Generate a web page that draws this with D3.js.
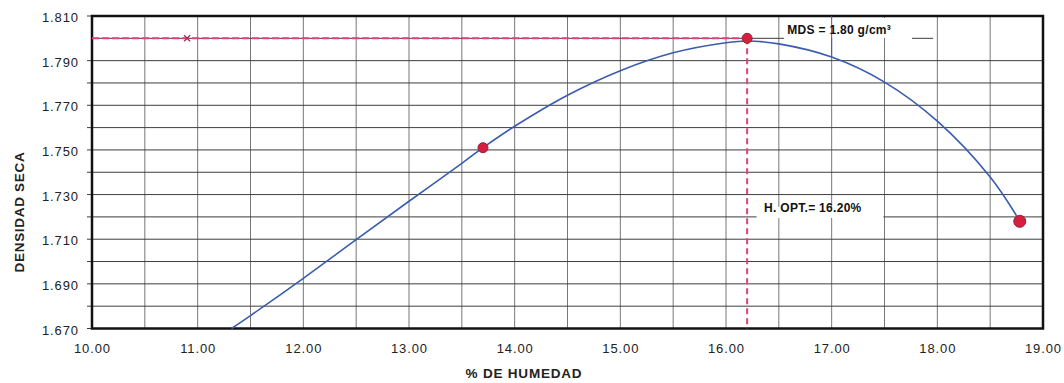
<!DOCTYPE html>
<html>
<head>
<meta charset="utf-8">
<script src="https://cdn.jsdelivr.net/npm/d3@7"></script>
<style>
  html, body { margin: 0; padding: 0; background: #fff; }
  svg { display: block; font-family: "Liberation Sans", Arial, sans-serif; }
</style>
</head>
<body>
<svg id="chart" width="1064" height="383"></svg>
<script>
// Compaction curve: moisture content (%) vs dry density (g/cm3)
const curveHumedad  = [11.32, 11.5, 12.0, 12.5, 13.0, 13.5, 13.7, 14.0, 14.5, 15.0, 15.5, 16.0, 16.2, 16.5, 17.0, 17.5, 18.0, 18.5, 18.75];
const curveDensidad = [1.670, 1.6758, 1.6925, 1.7098, 1.7270, 1.7440, 1.751, 1.7606, 1.7745, 1.7855, 1.7935, 1.7980, 1.7988, 1.7975, 1.7916, 1.7804, 1.7629, 1.7379, 1.7205];

// Measured test points
const puntosHumedad  = [13.70, 16.20, 18.78];
const puntosDensidad = [1.751, 1.800, 1.718];
const puntosRadio    = [5, 5, 6];

// Results
const mds  = 1.80;   // maximum dry density
const hOpt = 16.20;  // optimum moisture

const xTicks = [10, 11, 12, 13, 14, 15, 16, 17, 18, 19];
const yTicks = [1.670, 1.690, 1.710, 1.730, 1.750, 1.770, 1.790, 1.810];

const svg = d3.select("#chart");
const x = d3.scaleLinear().domain([10, 19]).range([92, 1043]);
const y = d3.scaleLinear().domain([1.67, 1.81]).range([328.5, 16]);

// grid
const vGrid = d3.range(10, 19.001, 0.5);
const hGrid = d3.range(0, 15).map(i => +(1.67 + i * 0.01).toFixed(3)).filter(v => v !== 1.8);

svg.append("g").selectAll("line").data(vGrid).join("line")
  .attr("x1", d => x(d)).attr("x2", d => x(d))
  .attr("y1", y(1.81)).attr("y2", y(1.67))
  .attr("stroke", "#777").attr("stroke-width", 1);

svg.append("g").selectAll("line").data(hGrid).join("line")
  .attr("x1", x(10) - 5).attr("x2", x(19))
  .attr("y1", d => y(d)).attr("y2", d => y(d))
  .attr("stroke", "#3e3e3e").attr("stroke-width", 1);

// 1.800 grid line pieces
const seg800 = [[10, 16.55], [17.76, 17.96]];
svg.append("g").selectAll("line").data(seg800).join("line")
  .attr("x1", d => x(d[0])).attr("x2", d => x(d[1]))
  .attr("y1", y(1.8)).attr("y2", y(1.8))
  .attr("stroke", "#3e3e3e").attr("stroke-width", 1);

// label backgrounds
svg.append("rect").attr("x", x(16.55)).attr("y", y(1.81) + 2).attr("width", x(17.74) - x(16.55)).attr("height", y(1.8) - y(1.81) - 2.5).attr("fill", "#fff");
svg.append("rect").attr("x", x(16.29)).attr("y", y(1.7245)).attr("width", x(17.49) - x(16.29)).attr("height", y(1.7195) - y(1.7245)).attr("fill", "#fff");

// frame
svg.append("rect")
  .attr("x", x(10)).attr("y", y(1.81))
  .attr("width", x(19) - x(10)).attr("height", y(1.67) - y(1.81))
  .attr("fill", "none").attr("stroke", "#111").attr("stroke-width", 2.5);

// drop line at 17.00
svg.append("line")
  .attr("x1", x(17)).attr("x2", x(17))
  .attr("y1", y(1.81)).attr("y2", y(1.7916))
  .attr("stroke", "#3a5cae").attr("stroke-width", 1);

// reference dashed lines
const pink = "#e2407e";
svg.append("line")
  .attr("x1", x(10)).attr("x2", x(hOpt))
  .attr("y1", y(mds)).attr("y2", y(mds))
  .attr("stroke", pink).attr("stroke-width", 2).attr("stroke-dasharray", "7,3");
svg.append("line")
  .attr("x1", x(hOpt)).attr("x2", x(hOpt))
  .attr("y1", y(mds)).attr("y2", y(1.67))
  .attr("stroke", pink).attr("stroke-width", 2).attr("stroke-dasharray", "6,4");

// small cross on the density line
const cx = x(10.9), cy = y(mds);
svg.append("path")
  .attr("d", `M${cx - 3},${cy - 3}L${cx + 3},${cy + 3}M${cx - 3},${cy + 3}L${cx + 3},${cy - 3}`)
  .attr("stroke", "#a0305a").attr("stroke-width", 1.3);

// fitted curve
const curveData = curveHumedad.map((h, i) => [h, curveDensidad[i]]);
svg.append("path")
  .datum(curveData)
  .attr("d", d3.line().x(d => x(d[0])).y(d => y(d[1])).curve(d3.curveCatmullRom))
  .attr("fill", "none").attr("stroke", "#3a5cae").attr("stroke-width", 1.6);

// test points
svg.append("g").selectAll("circle").data(puntosHumedad.map((h, i) => [h, puntosDensidad[i], puntosRadio[i]])).join("circle")
  .attr("cx", d => x(d[0])).attr("cy", d => y(d[1]))
  .attr("r", d => d[2])
  .attr("fill", "#d61f3e").attr("stroke", "#9c1a3c").attr("stroke-width", 1);

// annotations
svg.append("text")
  .attr("x", x(16.58)).attr("y", y(1.8) - 4)
  .attr("font-size", 12).attr("font-weight", "bold").attr("letter-spacing", 0.3).attr("fill", "#111")
  .text("MDS = " + mds.toFixed(2) + " g/cm³");
svg.append("text")
  .attr("x", x(16.36)).attr("y", y(1.72) - 5)
  .attr("font-size", 12).attr("font-weight", "bold").attr("letter-spacing", 0.3).attr("fill", "#111")
  .text("H. OPT.= " + hOpt.toFixed(2) + "%");

// axis labels
svg.append("g").selectAll("text").data(xTicks).join("text")
  .attr("x", d => x(d) + 0.5).attr("y", 352.5)
  .attr("text-anchor", "middle").attr("font-size", 13).attr("letter-spacing", 0.9).attr("fill", "#222")
  .text(d => d.toFixed(2));

svg.append("g").selectAll("text").data(yTicks).join("text")
  .attr("x", 79).attr("y", d => y(d) + 6)
  .attr("text-anchor", "end").attr("font-size", 13).attr("letter-spacing", 0.9).attr("fill", "#222")
  .text(d => d.toFixed(3));

// axis titles
svg.append("text")
  .attr("x", 524).attr("y", 378)
  .attr("text-anchor", "middle").attr("font-size", 13.5).attr("font-weight", "bold").attr("letter-spacing", 0.8).attr("fill", "#222")
  .text("% DE HUMEDAD");
svg.append("text")
  .attr("transform", "translate(23.5,212) rotate(-90)")
  .attr("text-anchor", "middle").attr("font-size", 13.5).attr("font-weight", "bold").attr("letter-spacing", 0.7).attr("fill", "#222")
  .text("DENSIDAD SECA");
</script>
</body>
</html>
